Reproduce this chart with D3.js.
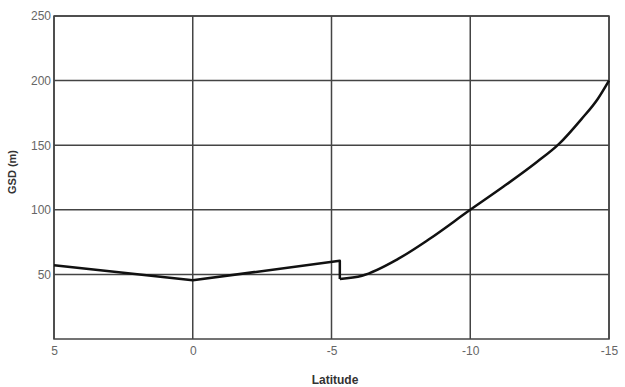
<!DOCTYPE html>
<html>
<head>
<meta charset="utf-8">
<script src="https://cdn.jsdelivr.net/npm/d3@7"></script>
<style>
  body { margin: 0; background: #fff; }
  svg { display: block; }
  .tick text { font-family: "Liberation Sans", Arial, sans-serif; font-size: 12px; fill: #666; }
  .lbl { font-family: "Liberation Sans", Arial, sans-serif; font-size: 12px; font-weight: bold; fill: #333; }
</style>
</head>
<body>
<svg width="625" height="387"></svg>
<script>
// Latitude (deg) vs GSD (m)
const latitude = [5, 0, -5.3, -5.3, -6.1, -7.4, -8.5, -10, -11.2, -12.4, -13.2, -14, -14.6, -15];
const gsd = [57, 45.5, 60.5, 46.5, 49, 62, 77, 100, 118, 137, 151, 170, 186, 200];
const xTicks = [5, 0, -5, -10, -15];
const yTicks = [50, 100, 150, 200, 250];

const svg = d3.select("svg");
const mLeft = 54, mRight = 609, mTop = 16, mBottom = 339;

const x = d3.scaleLinear().domain([5, -15]).range([mLeft, mRight]);
const y = d3.scaleLinear().domain([0, 250]).range([mBottom, mTop]);

const g = svg.append("g");

// grid
g.selectAll("line.vgrid").data(xTicks).enter().append("line")
  .attr("x1", d => x(d)).attr("x2", d => x(d))
  .attr("y1", mTop).attr("y2", mBottom)
  .attr("stroke", "#444").attr("stroke-width", 1.5);

g.selectAll("line.hgrid").data(yTicks).enter().append("line")
  .attr("x1", mLeft).attr("x2", mRight)
  .attr("y1", d => y(d)).attr("y2", d => y(d))
  .attr("stroke", "#444").attr("stroke-width", 1.5);

g.append("rect")
  .attr("x", mLeft).attr("y", mTop)
  .attr("width", mRight - mLeft).attr("height", mBottom - mTop)
  .attr("fill", "none").attr("stroke", "#444").attr("stroke-width", 1.5);

// axes (labels only), plain hyphen for minus like the original
const xAxis = svg.append("g").attr("transform", `translate(0,${mBottom})`)
  .call(d3.axisBottom(x).tickValues(xTicks).tickSize(0).tickPadding(7).tickFormat(d => String(d)));
xAxis.select(".domain").remove();

const yAxis = svg.append("g").attr("transform", `translate(${mLeft},0)`)
  .call(d3.axisLeft(y).tickValues(yTicks).tickSize(0).tickPadding(3));
yAxis.select(".domain").remove();

// data line: straight part up to the jump, smooth curve after it
const pts = latitude.map((d, i) => [d, gsd[i]]);
const line = d3.line().x(d => x(d[0])).y(d => y(d[1]));

g.append("path")
  .datum(pts.slice(0, 4))
  .attr("fill", "none").attr("stroke", "#111").attr("stroke-width", 2.5)
  .attr("stroke-linejoin", "round")
  .attr("d", line);

g.append("path")
  .datum(pts.slice(3))
  .attr("fill", "none").attr("stroke", "#111").attr("stroke-width", 2.5)
  .attr("stroke-linejoin", "round")
  .attr("d", line.curve(d3.curveMonotoneX));

// axis titles
svg.append("text").attr("class", "lbl")
  .attr("x", 335).attr("y", 384)
  .attr("text-anchor", "middle")
  .text("Latitude");

svg.append("text").attr("class", "lbl")
  .attr("transform", "translate(16,172) rotate(-90)")
  .attr("text-anchor", "middle")
  .style("font-size", "11px")
  .text("GSD (m)");
</script>
</body>
</html>
